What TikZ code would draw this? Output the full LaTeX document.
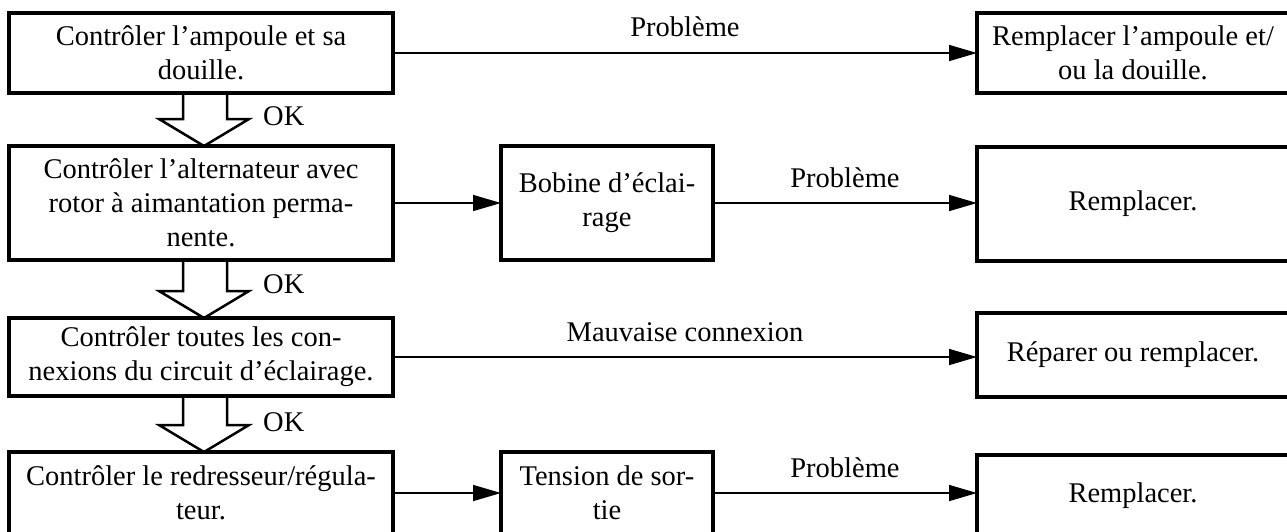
\documentclass[tikz,border=0pt]{standalone}
\usepackage{fontspec}
\setmainfont{Liberation Serif}
\usetikzlibrary{arrows.meta,calc}
\newcommand\okarrow[2]{%
  \draw[hollow] ($(#1.south)+(-18,0)$) -- ($(#2.north)+(-18,-27)$) -- ($(#2.north)+(-42,-27)$)
    -- ($(#2.north)+(3,0)$) -- ($(#2.north)+(48,-27)$) -- ($(#2.north)+(26,-27)$) -- ($(#1.south)+(26,0)$);}
\begin{document}
\begin{tikzpicture}[x=1pt,y=-1pt,
  box/.style={draw,line width=4pt,outer sep=0pt,inner sep=0pt,align=center,
    font=\fontsize{28.5}{34}\selectfont},
  lbl/.style={inner sep=0pt,font=\fontsize{28.5}{34}\selectfont},
  conn/.style={line width=1.5pt,-{Triangle[length=28pt,width=16pt]}},
  hollow/.style={line width=2.5pt,line join=miter}]
\useasboundingbox (0,0) rectangle (1287,531);
\clip (0,0) rectangle (1287,531);
\fill[white] (0,0) rectangle (1287,531);

% row 1
\node[box,minimum width=384pt,minimum height=80pt] (b1) at (201,53) {Contrôler l’ampoule et sa\\douille.};
\node[box,minimum width=312pt,minimum height=80pt] (r1) at (1133,53) {Remplacer l’ampoule et/\\ou la douille.};
% row 2
\node[box,minimum width=384pt,minimum height=114pt] (b2) at (201,203) {Contrôler l’alternateur avec\\rotor à aimantation perma-\\nente.};
\node[box,minimum width=212pt,minimum height=114pt] (bob) at (607,203) {Bobine d’éclai-\\rage};
\node[box,minimum width=312pt,minimum height=114pt] (r2) at (1133,204) {Remplacer.};
% row 3
\node[box,minimum width=384pt,minimum height=78pt] (b3) at (201,357) {Contrôler toutes les con-\\nexions du circuit d’éclairage.};
\node[box,minimum width=312pt,minimum height=84pt] (r3) at (1133,355) {Réparer ou remplacer.};
% row 4
\node[box,minimum width=384pt,minimum height=82pt] (b4) at (201,493) {Contrôler le redresseur/régula-\\teur.};
\node[box,minimum width=212pt,minimum height=82pt] (ten) at (607,493) {Tension de sor-\\tie};
\node[box,minimum width=312pt,minimum height=82pt] (r4) at (1133,496) {Remplacer.};

% connectors
\draw[conn] (b1) -- node[lbl,above=15pt]{Problème} (r1);
\draw[conn] (b2) -- (bob);
\draw[conn] (bob.east) -- node[lbl,above=14pt]{Problème} (bob.east -| r2.west);
\draw[conn] (b3.east) -- node[lbl,above=14pt]{Mauvaise connexion} (b3.east -| r3.west);
\draw[conn] (b4) -- (ten);
\draw[conn] (ten.east) -- node[lbl,above=14pt]{Problème} (ten.east -| r4.west);

% OK arrows
\okarrow{b1}{b2}
\okarrow{b2}{b3}
\okarrow{b3}{b4}
\node[lbl,anchor=west] (ok1) at (263,116) {OK};
\node[lbl,anchor=west] (ok2) at (263,284) {OK};
\node[lbl,anchor=west] (ok3) at (263,422) {OK};
\end{tikzpicture}
\end{document}
